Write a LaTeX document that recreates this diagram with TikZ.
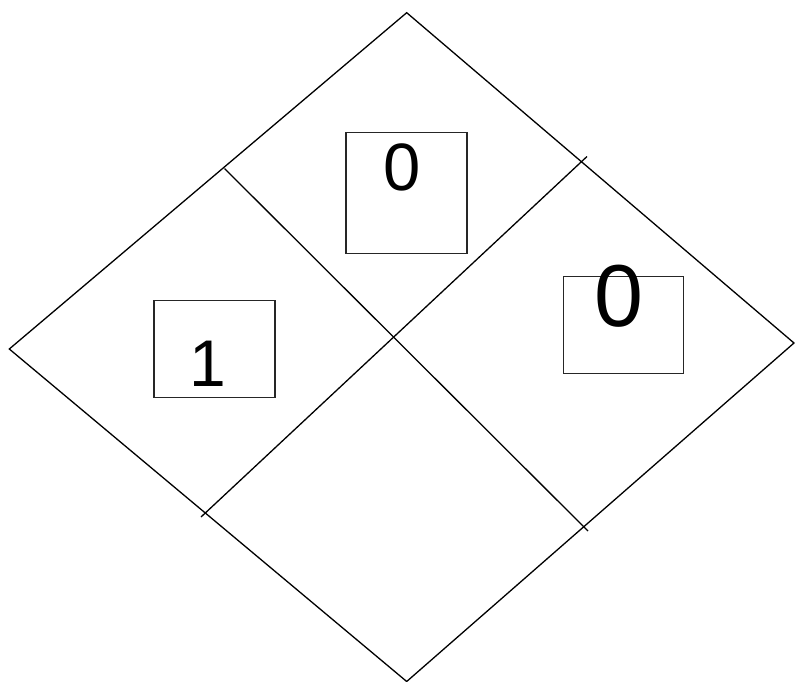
\documentclass[tikz,border=0pt]{standalone}
\usepackage{fontspec}
\setmainfont{Liberation Sans}
\usetikzlibrary{positioning,calc}
\tikzset{
  edge/.style={draw=black, line width=1.3pt},
  casebox/.style={rectangle, draw=black!85, line width=1.5pt, inner sep=0pt},
  chiffre/.style={inner sep=0pt, anchor=base, font=\fontsize{#1}{#1}\selectfont},
}
\begin{document}
\begin{tikzpicture}[x=1pt, y=-1pt]
        \useasboundingbox (0,0) rectangle (795,682);
        % sommets du losange
        \coordinate (haut) at (406.7,12.7);
        \coordinate (gauche) at (9.3,349);
        \coordinate (bas) at (406.7,681.5);
        \coordinate (droite) at (794,343);
        % extremites des separations
        \coordinate (hg) at (224.5,168.5);
        \coordinate (bd) at (588,531);
        \coordinate (bg) at (201,517);
        \coordinate (hd) at (587,156.5);
        \draw[edge] (haut) -- (droite) -- (bas) -- (gauche) -- cycle;
        \draw[edge] (hg) -- (bd);
        \draw[edge] (bg) -- (hd);
        % cases
        \node[casebox, minimum width=121pt, minimum height=120.6pt] (caseH) at (406.7,193) {};
        \node[casebox, minimum width=120pt, minimum height=96.6pt] (caseD) at (623.3,325) {};
        \node[casebox, minimum width=121pt, minimum height=96.6pt] (caseG) at (214.5,349) {};
        \node[chiffre=67] (valH) at (401.7,190) {0};
        \node[chiffre=88] (valD) at (619.3,326) {0};
        \node[chiffre=66] (valG) at (208.3,386.7) {1};
      \end{tikzpicture}
\end{document}
